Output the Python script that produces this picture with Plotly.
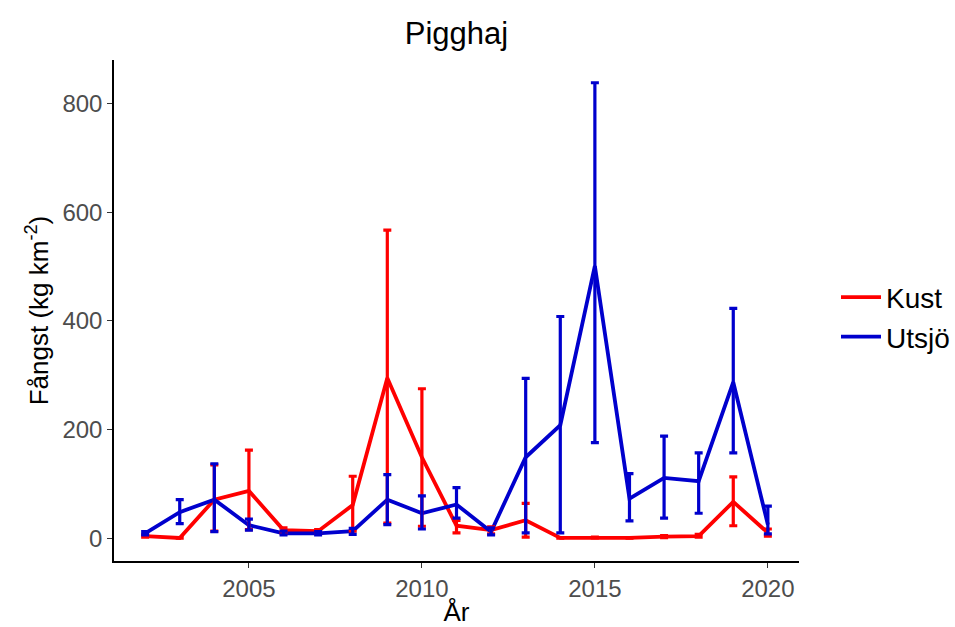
import plotly.graph_objects as go

# Catch per year (kg km^-2) with lower/upper error limits
years = list(range(2002, 2021))

kust_mean = [4, 0.5, 71, 87, 15, 13, 61, 295, 149, 23, 15, 33, 0.5, 1, 0.5, 3, 4, 67, 10]
kust_low = [2, 0.2, 13, 16, 10, 9, 13, 28, 22, 10, 8, 2, 0.2, 0.5, 0.2, 1, 2, 23, 4]
kust_high = [6, 1, 135, 162, 19, 16, 114, 567, 275, 33, 21, 64, 1, 2, 1, 5, 7, 113, 17]

utsjo_mean = [9, 48, 71, 24, 9, 9, 13, 71, 46, 62, 12, 149, 208, 501, 73, 111, 105, 287, 25]
utsjo_low = [6, 27, 12, 15, 6, 6, 7, 25, 17, 37, 6, 10, 10, 176, 32, 37, 46, 157, 8]
utsjo_high = [12, 71, 137, 35, 13, 12, 18, 117, 78, 93, 19, 294, 408, 838, 119, 188, 157, 423, 59]

series = [
    ("Kust", "#FF0000", kust_mean, kust_low, kust_high),
    ("Utsjö", "#0000CD", utsjo_mean, utsjo_low, utsjo_high),
]

fig = go.Figure()

# Lines first
for name, color, mean, low, high in series:
    fig.add_trace(go.Scatter(
        x=years, y=mean, mode="lines", name=name,
        line=dict(color=color, width=3.8),
    ))

# Error bars on top of the lines
for name, color, mean, low, high in series:
    fig.add_trace(go.Scatter(
        x=years, y=mean, mode="markers", showlegend=False, hoverinfo="skip",
        marker=dict(size=1, color="rgba(0,0,0,0)"),
        error_y=dict(
            type="data", symmetric=False,
            array=[h - m for h, m in zip(high, mean)],
            arrayminus=[m - l for m, l in zip(mean, low)],
            color=color, thickness=3.2, width=4,
        ),
    ))

ymax = max(max(kust_high), max(utsjo_high))
pad = 0.05 * ymax

fig.update_layout(
    width=955, height=627,
    margin=dict(l=114, r=156, t=60, b=66),
    paper_bgcolor="white", plot_bgcolor="white",
    font=dict(family="Liberation Sans, Arial, sans-serif", color="black"),
    title=dict(text="Pigghaj", x=(114 + 799) / 2 / 955, xanchor="center",
               y=1 - 33 / 627, yanchor="middle", font=dict(size=31, color="black")),
    legend=dict(xref="container", x=836 / 955, y=0.487, xanchor="left", yanchor="middle",
                font=dict(size=28, color="black"), itemwidth=40,
                tracegroupgap=4, bgcolor="rgba(0,0,0,0)"),
    showlegend=True,
)

fig.update_xaxes(
    range=[2002 - 0.9, 2020 + 0.9],
    tickvals=[2005, 2010, 2015, 2020],
    showline=True, linecolor="black", linewidth=1.5,
    ticks="outside", ticklen=5, tickcolor="#333333", tickwidth=1.2,
    tickfont=dict(size=24, color="#4D4D4D"),
    showgrid=False, zeroline=False, automargin=False,
    title=dict(text="År", font=dict(size=26, color="black"), standoff=2),
)
fig.update_yaxes(
    range=[-pad, ymax + pad],
    tickvals=[0, 200, 400, 600, 800],
    showline=True, linecolor="black", linewidth=1.5,
    ticks="outside", ticklen=5, tickcolor="#333333", tickwidth=1.2,
    tickfont=dict(size=24, color="#4D4D4D"),
    showgrid=False, zeroline=False, automargin=False,
    title=dict(text="Fångst (kg km<sup>-2</sup>)", font=dict(size=26, color="black"), standoff=6),
)

fig.write_html("out.html")
